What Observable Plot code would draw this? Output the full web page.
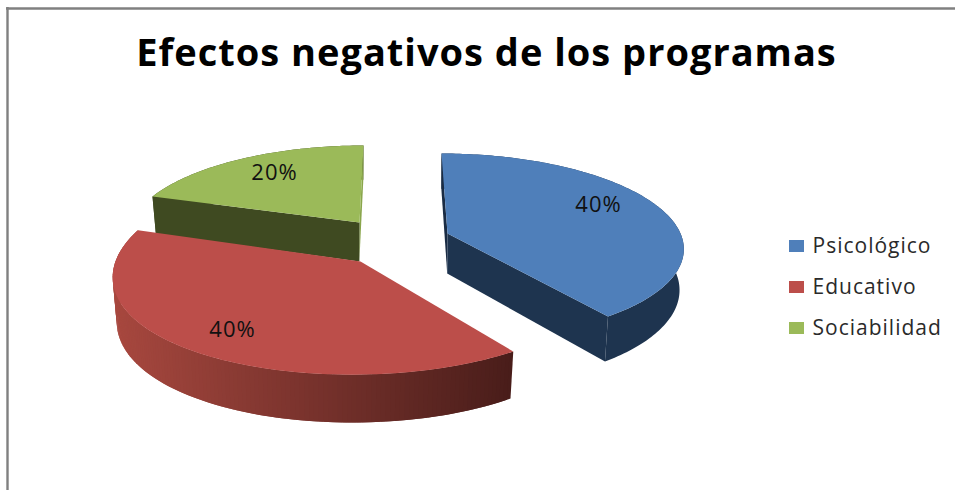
<!DOCTYPE html>
<html>
<head>
<meta charset="utf-8">
<script src="https://cdn.jsdelivr.net/npm/d3@7"></script>
<script src="https://cdn.jsdelivr.net/npm/@observablehq/plot@0.6"></script>
<style>
html,body{margin:0;padding:0;background:#fff;}
svg{display:block;}
svg text{letter-spacing:1px;}
</style>
</head>
<body>
<div id="chart"></div>
<script>
const titleText = "Efectos negativos de los programas";
const categories = ["Psicológico", "Educativo", "Sociabilidad"];
const shares = [40, 40, 20];
const topColors = ["#4f7fba", "#bc4e4a", "#9bba59"];
const wallColors = ["#1e344f", "#4a1e1b", "#3f4a21"];
const edgeColors = ["#1a2c44", "#4a1e1b", "#8aa64c"];

// Placement of each exploded slice on the page (perspective view of a 3D pie)
const views = [
  {cx: 447, cy: 233, R: 233, A: 91.1, c: 6.8, kx: .139, ky: .139, D: 40, vx: 430},
  {cx: 360, cy: 261, R: 245, A: 104, c: -7.5, kx: .12, ky: .081, D: 44, vx: 350},
  {cx: 359, cy: 222, R: 228.5, A: 87.7, c: -4.6, kx: .139, ky: .139, D: 39, vx: 350}
];
const labelAt = [[598, 204], [232, 329], [274, 172]];
const legendAt = [246, 287, 328];
const VF = 0.983;

const toRad = d => d * Math.PI / 180;
function project(v, deg, r, low) {
  const X = r * Math.sin(toRad(deg)), Y = -r * Math.cos(toRad(deg));
  const sx = 1 / (1 - v.kx * Y), sy = 1 / (1 - v.ky * Y);
  let x = v.cx + sx * (v.R * X + v.c * Y);
  let y = v.cy + sy * v.A * Y;
  if (low) { y += v.D * sy; x = v.vx + (x - v.vx) * VF; }
  return {x, y};
}

// Slice angle ranges follow from the shares, clockwise from twelve o'clock
const total = d3.sum(shares);
let run = 0;
const slices = categories.map((name, i) => {
  const a0 = run; run += shares[i] / total * 360;
  return {name, i, a0, a1: run, view: views[i]};
});

const pieces = [];
let pid = 0;
function addPiece(points, color) {
  const id = pid++;
  for (const p of points) pieces.push({x: p.x, y: p.y, id, color});
}
const redRamp = d3.interpolateRgb("#a8483f", "#491d1a");

function drawSlice(s) {
  const v = s.view, steps = [];
  for (let a = s.a0; a < s.a1; a += 1) steps.push(a);
  steps.push(s.a1);
  // outer wall
  if (s.i === 1) {
    // shaded strips, each one overlapping the next so no seams show
    for (let j = 0; j < steps.length - 1; j++) {
      const a = steps[j], b = steps[Math.min(j + 2, steps.length - 1)];
      const p = [project(v, a, 1, false), project(v, b, 1, false), project(v, b, 1, true), project(v, a, 1, true)];
      const t = Math.min(1, Math.max(0, (p[0].x - 111) / 402));
      addPiece(p, redRamp(t));
    }
  } else {
    addPiece([...steps.map(a => project(v, a, 1, false)),
              ...steps.slice().reverse().map(a => project(v, a, 1, true))], wallColors[s.i]);
  }
  // cut walls
  const wall = (deg, color) => addPiece([
    project(v, 0, 0, false), project(v, deg, 1, false),
    project(v, deg, 1, true), project(v, 0, 0, true)], color);
  if (s.i === 0) { wall(s.a0, edgeColors[0]); wall(s.a1, wallColors[0]); }
  if (s.i === 2) { wall(s.a1, edgeColors[2]); wall(s.a0, wallColors[2]); }
  // top face
  addPiece([project(v, 0, 0, false), ...steps.map(a => project(v, a, 1, false))], topColors[s.i]);
}
// back slice first, then the left one, then the right one
[slices[2], slices[1], slices[0]].forEach(drawSlice);

const labelRows = slices.map(s => ({
  text: shares[s.i] + "%", x: labelAt[s.i][0], y: labelAt[s.i][1]
}));
const legendRows = categories.map((name, i) => ({name, y: legendAt[i], color: topColors[i]}));

const chart = Plot.plot({
  width: 955, height: 490,
  marginTop: 0, marginRight: 0, marginBottom: 0, marginLeft: 0,
  x: {domain: [0, 955], range: [0, 955], axis: null},
  y: {domain: [0, 490], range: [0, 490], axis: null},
  color: {type: "identity"},
  style: {background: "#fff", overflow: "visible"},
  marks: [
    Plot.ruleY([8], {x1: 6, x2: 955, stroke: "#808080", strokeWidth: 2.4}),
    Plot.ruleX([7], {y1: 7, y2: 490, stroke: "#808080", strokeWidth: 2.4}),
    Plot.line(pieces, {x: "x", y: "y", z: "id", fill: "color", stroke: "none", curve: "linear"}),
    Plot.text(labelRows, {x: "x", y: "y", text: "text", fontSize: 22, fontFamily: "Open Sans", fill: "#111", textAnchor: "middle"}),
    Plot.text([titleText], {x: [486], y: [53], text: d => d, fontSize: 38, fontWeight: 700, fontFamily: "Open Sans", fill: "#000", textAnchor: "middle"}),
    Plot.rect(legendRows, {x1: () => 789, x2: () => 804, y1: d => d.y - 6, y2: d => d.y + 6, fill: "color"}),
    Plot.text(legendRows, {x: () => 812, y: "y", text: "name", fontSize: 21, fontFamily: "Open Sans", fill: "#2a2a2a", textAnchor: "start"})
  ]
});
document.getElementById("chart").appendChild(chart);
</script>
</body>
</html>
